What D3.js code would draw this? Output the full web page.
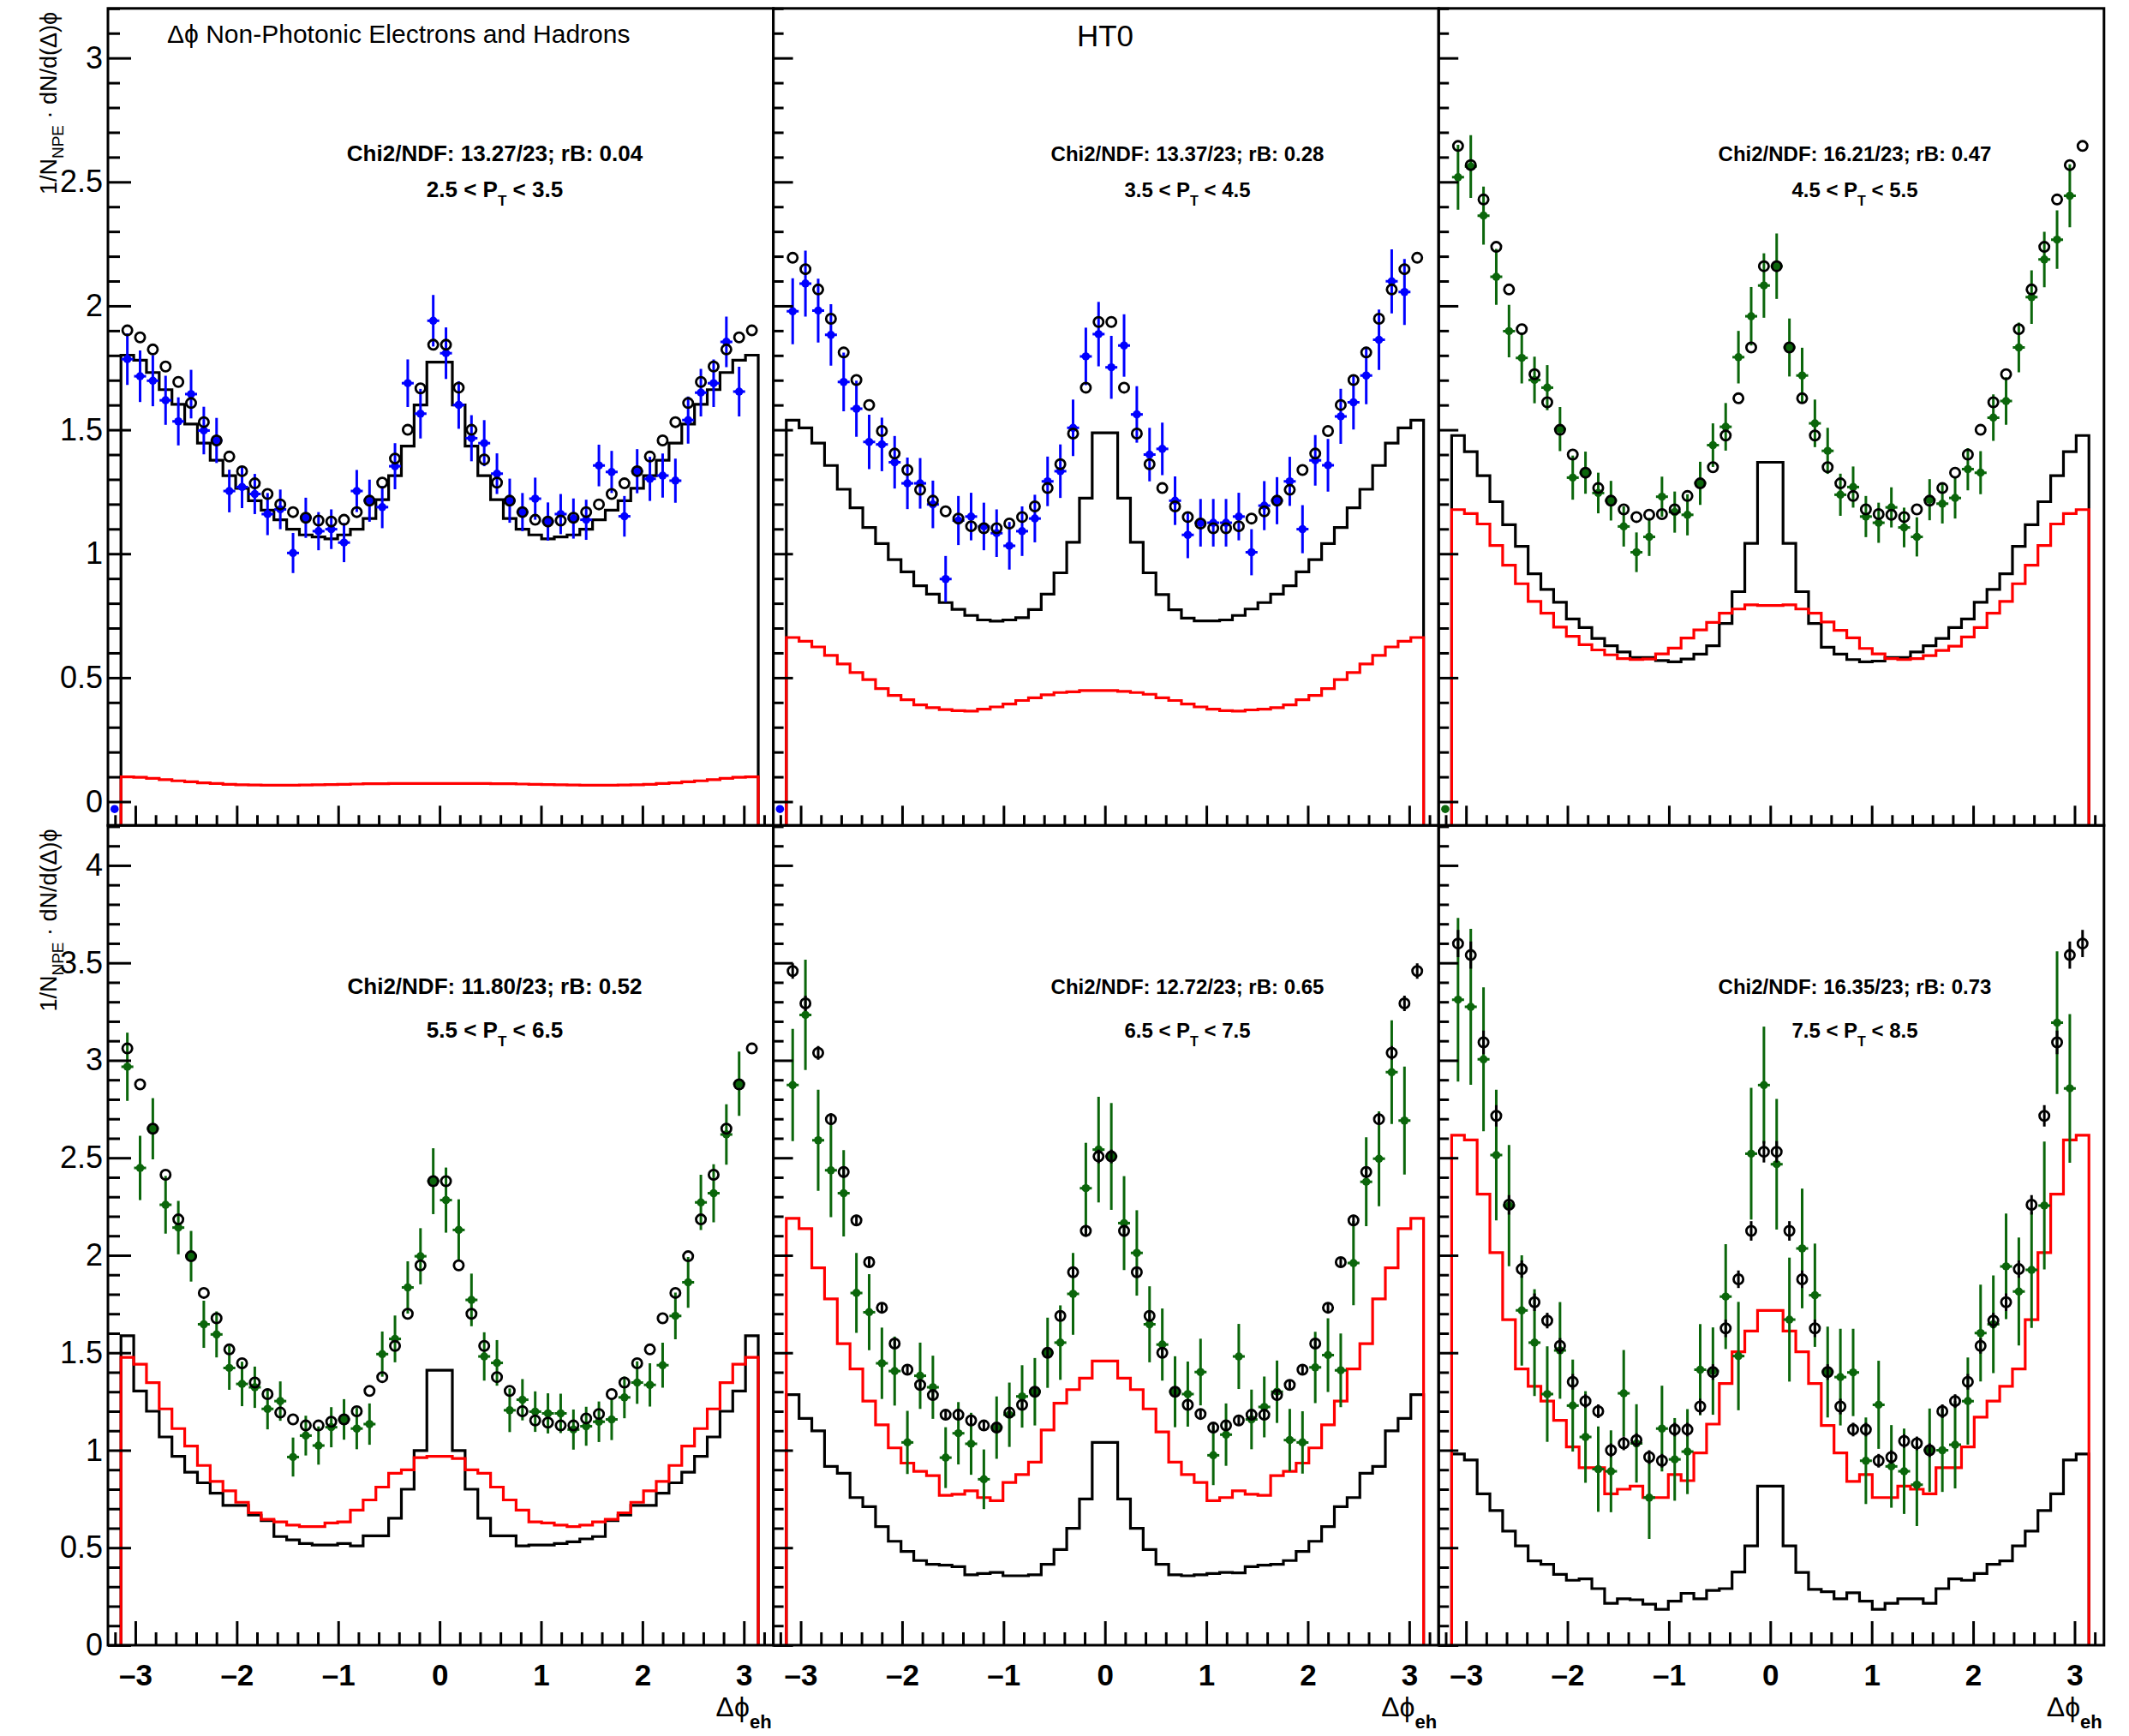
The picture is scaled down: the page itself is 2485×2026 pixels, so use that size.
<!DOCTYPE html>
<html>
<head>
<meta charset="utf-8">
<script src="https://cdn.jsdelivr.net/npm/d3@7"></script>
<style>
  body { margin: 0; background: #ffffff; }
  svg text { font-family: "Liberation Sans", Arial, Helvetica, sans-serif; }
</style>
</head>
<body>
<svg id="chart" width="2485" height="2026"></svg>
<script>
// ---------------------------------------------------------------------------
// Delta-phi correlations of non-photonic electrons with hadrons (HT0 trigger),
// six pT bins. Per panel: combined fit (open circles), charm template (black
// histogram), bottom template (red histogram) and measured points.
// ---------------------------------------------------------------------------

const phiTicks = [-3, -2, -1, 0, 1, 2, 3];
const yTicksTop = [0, 0.5, 1, 1.5, 2, 2.5, 3];
const yTicksBottom = [0, 0.5, 1, 1.5, 2, 2.5, 3, 3.5, 4];

const chi2Labels = [
  "Chi2/NDF: 13.27/23; rB: 0.04",
  "Chi2/NDF: 13.37/23; rB: 0.28",
  "Chi2/NDF: 16.21/23; rB: 0.47",
  "Chi2/NDF: 11.80/23; rB: 0.52",
  "Chi2/NDF: 12.72/23; rB: 0.65",
  "Chi2/NDF: 16.35/23; rB: 0.73"
];
const ptLow = ["2.5", "3.5", "4.5", "5.5", "6.5", "7.5"];
const ptHigh = ["3.5", "4.5", "5.5", "6.5", "7.5", "8.5"];

// ---- 2.5 < pT < 3.5 -------------------------------------------------------
const fit1 = [1.901, 1.873, 1.824, 1.755, 1.693, 1.608, 1.531, 1.457, 1.392, 1.333,
  1.284, 1.241, 1.199, 1.168, 1.145, 1.134, 1.130, 1.137, 1.168, 1.214,
  1.287, 1.384, 1.500, 1.667, 1.843, 1.843, 1.670, 1.500, 1.380, 1.287,
  1.214, 1.168, 1.137, 1.130, 1.134, 1.145, 1.168, 1.199, 1.241, 1.284,
  1.333, 1.392, 1.457, 1.531, 1.608, 1.693, 1.755, 1.824, 1.873, 1.901];
const charm1 = [1.801, 1.781, 1.731, 1.662, 1.603, 1.523, 1.446, 1.377, 1.315, 1.264,
  1.214, 1.176, 1.137, 1.099, 1.076, 1.068, 1.060, 1.076, 1.099, 1.142,
  1.218, 1.315, 1.434, 1.600, 1.773, 1.773, 1.600, 1.434, 1.315, 1.218,
  1.142, 1.099, 1.076, 1.060, 1.068, 1.076, 1.099, 1.137, 1.176, 1.214,
  1.264, 1.315, 1.377, 1.446, 1.523, 1.603, 1.662, 1.731, 1.781, 1.801];
const bottom1 = [0.100, 0.098, 0.094, 0.089, 0.084, 0.080, 0.076, 0.073, 0.070, 0.068,
  0.067, 0.066, 0.066, 0.066, 0.067, 0.068, 0.069, 0.070, 0.071, 0.072,
  0.072, 0.073, 0.073, 0.073, 0.073, 0.073, 0.073, 0.073, 0.073, 0.072,
  0.072, 0.071, 0.070, 0.069, 0.068, 0.067, 0.066, 0.066, 0.066, 0.067,
  0.068, 0.070, 0.073, 0.076, 0.080, 0.084, 0.089, 0.094, 0.098, 0.100];
const data1 = [-0.03, 1.785, 1.716, 1.698, 1.619, 1.534, 1.644, 1.497, 1.457, 1.253,
  1.269, 1.241, 1.160, 1.179, 1.003, 1.145, 1.091, 1.099, 1.045, 1.253,
  1.214, 1.188, 1.353, 1.688, 1.565, 1.940, 1.809, 1.600, 1.466, 1.446,
  1.323, 1.214, 1.168, 1.222, 1.130, 1.160, 1.142, 1.137, 1.356, 1.330,
  1.151, 1.333, 1.302, 1.315, 1.295, 1.539, 1.650, 1.688, 1.855, 1.654];
const dataErr1 = [0, 0.104, 0.104, 0.103, 0.099, 0.097, 0.098, 0.096, 0.091, 0.086,
  0.085, 0.081, 0.085, 0.080, 0.081, 0.081, 0.077, 0.080, 0.079, 0.085,
  0.085, 0.085, 0.093, 0.096, 0.100, 0.104, 0.104, 0.096, 0.093, 0.093,
  0.082, 0.089, 0.077, 0.085, 0.077, 0.081, 0.081, 0.081, 0.084, 0.085,
  0.082, 0.089, 0.089, 0.089, 0.089, 0.095, 0.096, 0.096, 0.102, 0.100];

// ---- 3.5 < pT < 4.5 -------------------------------------------------------
const fit2 = [2.194, 2.148, 2.066, 1.948, 1.812, 1.701, 1.600, 1.495, 1.404, 1.338,
  1.258, 1.214, 1.171, 1.142, 1.111, 1.103, 1.103, 1.122, 1.148, 1.191,
  1.265, 1.361, 1.485, 1.670, 1.935, 1.935, 1.670, 1.485, 1.361, 1.265,
  1.191, 1.148, 1.122, 1.103, 1.103, 1.111, 1.142, 1.171, 1.214, 1.258,
  1.338, 1.404, 1.495, 1.600, 1.701, 1.812, 1.948, 2.066, 2.148, 2.194];
const charm2 = [1.539, 1.508, 1.446, 1.356, 1.260, 1.185, 1.106, 1.041, 0.976, 0.927,
  0.871, 0.837, 0.803, 0.776, 0.751, 0.733, 0.728, 0.733, 0.742, 0.775,
  0.837, 0.923, 1.046, 1.224, 1.488, 1.488, 1.224, 1.046, 0.923, 0.835,
  0.774, 0.740, 0.729, 0.729, 0.733, 0.751, 0.777, 0.803, 0.837, 0.871,
  0.927, 0.976, 1.041, 1.106, 1.185, 1.260, 1.356, 1.446, 1.508, 1.539];
const bottom2 = [0.662, 0.647, 0.624, 0.590, 0.555, 0.521, 0.492, 0.456, 0.428, 0.411,
  0.390, 0.379, 0.371, 0.367, 0.365, 0.373, 0.382, 0.394, 0.408, 0.419,
  0.431, 0.440, 0.443, 0.448, 0.448, 0.448, 0.445, 0.440, 0.433, 0.419,
  0.408, 0.394, 0.382, 0.373, 0.367, 0.365, 0.370, 0.373, 0.379, 0.390,
  0.411, 0.428, 0.456, 0.492, 0.521, 0.555, 0.590, 0.624, 0.647, 0.662];
const data2 = [-0.03, 1.978, 2.090, 1.981, 1.883, 1.693, 1.585, 1.451, 1.441, 1.369,
  1.284, 1.284, 1.199, 0.898, 1.134, 1.150, 1.110, 1.083, 1.032, 1.091,
  1.142, 1.292, 1.333, 1.508, 1.796, 1.886, 1.752, 1.840, 1.562, 1.400,
  1.423, 1.214, 1.076, 1.125, 1.125, 1.125, 1.150, 1.006, 1.194, 1.214,
  1.292, 1.099, 1.377, 1.357, 1.554, 1.611, 1.719, 1.863, 2.099, 2.056];
const dataErr2 = [0, 0.133, 0.133, 0.129, 0.124, 0.118, 0.113, 0.110, 0.108, 0.106,
  0.104, 0.102, 0.096, 0.093, 0.099, 0.096, 0.096, 0.096, 0.096, 0.100,
  0.096, 0.100, 0.108, 0.114, 0.116, 0.130, 0.127, 0.126, 0.114, 0.108,
  0.106, 0.098, 0.094, 0.096, 0.096, 0.096, 0.096, 0.093, 0.099, 0.095,
  0.099, 0.097, 0.102, 0.106, 0.111, 0.110, 0.116, 0.122, 0.129, 0.133];

// ---- 4.5 < pT < 5.5 -------------------------------------------------------
const fit3 = [2.645, 2.568, 2.429, 2.238, 2.066, 1.906, 1.724, 1.611, 1.500, 1.400,
  1.327, 1.265, 1.214, 1.179, 1.148, 1.157, 1.160, 1.179, 1.233, 1.284,
  1.349, 1.477, 1.627, 1.832, 2.160, 2.160, 1.832, 1.627, 1.477, 1.349,
  1.284, 1.233, 1.179, 1.160, 1.157, 1.148, 1.179, 1.214, 1.265, 1.327,
  1.400, 1.500, 1.611, 1.724, 1.906, 2.066, 2.238, 2.429, 2.568, 2.645];
const charm3 = [1.477, 1.412, 1.315, 1.210, 1.117, 1.030, 0.919, 0.856, 0.804, 0.737,
  0.702, 0.658, 0.629, 0.604, 0.581, 0.581, 0.569, 0.564, 0.575, 0.595,
  0.629, 0.719, 0.847, 1.042, 1.369, 1.369, 1.042, 0.847, 0.719, 0.623,
  0.595, 0.573, 0.564, 0.567, 0.581, 0.581, 0.604, 0.629, 0.658, 0.702,
  0.737, 0.804, 0.856, 0.919, 1.030, 1.117, 1.210, 1.315, 1.412, 1.477];
const bottom3 = [1.178, 1.162, 1.120, 1.033, 0.954, 0.879, 0.808, 0.760, 0.704, 0.667,
  0.633, 0.612, 0.592, 0.577, 0.573, 0.575, 0.596, 0.619, 0.660, 0.693,
  0.723, 0.760, 0.777, 0.794, 0.791, 0.791, 0.794, 0.777, 0.760, 0.725,
  0.691, 0.661, 0.618, 0.596, 0.577, 0.573, 0.577, 0.589, 0.610, 0.627,
  0.664, 0.702, 0.760, 0.808, 0.879, 0.954, 1.033, 1.120, 1.162, 1.178];
const data3 = [-0.03, 2.519, 2.562, 2.364, 2.117, 1.898, 1.790, 1.701, 1.670, 1.503,
  1.307, 1.327, 1.245, 1.214, 1.110, 1.006, 1.068, 1.230, 1.168, 1.157,
  1.284, 1.438, 1.512, 1.793, 1.958, 2.082, 2.160, 1.832, 1.719, 1.526,
  1.415, 1.238, 1.269, 1.150, 1.125, 1.187, 1.106, 1.068, 1.218, 1.202,
  1.225, 1.341, 1.327, 1.549, 1.616, 1.832, 2.035, 2.187, 2.267, 2.444];
const dataErr3 = [0, 0.131, 0.127, 0.117, 0.113, 0.106, 0.103, 0.094, 0.091, 0.089,
  0.089, 0.085, 0.082, 0.080, 0.081, 0.080, 0.077, 0.081, 0.083, 0.083,
  0.087, 0.088, 0.096, 0.106, 0.118, 0.130, 0.132, 0.117, 0.112, 0.096,
  0.093, 0.085, 0.083, 0.083, 0.081, 0.081, 0.080, 0.079, 0.083, 0.080,
  0.083, 0.085, 0.087, 0.094, 0.096, 0.100, 0.108, 0.112, 0.118, 0.127];

// ---- 5.5 < pT < 6.5 -------------------------------------------------------
const fit4 = [3.061, 2.877, 2.649, 2.413, 2.184, 1.995, 1.807, 1.677, 1.517, 1.446,
  1.347, 1.288, 1.193, 1.158, 1.127, 1.127, 1.146, 1.158, 1.200, 1.304,
  1.375, 1.535, 1.700, 1.948, 2.380, 2.380, 1.948, 1.700, 1.535, 1.375,
  1.304, 1.200, 1.153, 1.142, 1.127, 1.127, 1.163, 1.186, 1.288, 1.347,
  1.446, 1.517, 1.677, 1.807, 1.995, 2.184, 2.413, 2.649, 2.877, 3.061];
const charm4 = [1.587, 1.304, 1.200, 1.068, 0.969, 0.887, 0.833, 0.780, 0.717, 0.717,
  0.667, 0.639, 0.557, 0.540, 0.521, 0.514, 0.514, 0.521, 0.509, 0.561,
  0.561, 0.651, 0.800, 0.998, 1.410, 1.410, 0.998, 0.800, 0.651, 0.561,
  0.561, 0.509, 0.514, 0.514, 0.521, 0.530, 0.545, 0.557, 0.639, 0.667,
  0.717, 0.717, 0.780, 0.833, 0.887, 0.969, 1.068, 1.200, 1.304, 1.587];
const bottom4 = [1.476, 1.441, 1.347, 1.212, 1.111, 1.021, 0.922, 0.840, 0.792, 0.733,
  0.679, 0.646, 0.632, 0.616, 0.608, 0.608, 0.627, 0.632, 0.693, 0.745,
  0.811, 0.882, 0.899, 0.962, 0.969, 0.969, 0.958, 0.899, 0.882, 0.811,
  0.745, 0.693, 0.632, 0.627, 0.616, 0.608, 0.616, 0.632, 0.646, 0.679,
  0.733, 0.792, 0.840, 0.922, 1.021, 1.111, 1.212, 1.347, 1.441, 1.476];
const data4 = [null, 2.967, 2.448, 2.649, 2.259, 2.142, 1.995, 1.646, 1.594, 1.422,
  1.340, 1.323, 1.212, 1.252, 0.965, 1.075, 1.024, 1.118, 1.158, 1.111,
  1.134, 1.493, 1.571, 1.835, 1.995, 2.380, 2.283, 2.130, 1.771, 1.481,
  1.448, 1.205, 1.259, 1.198, 1.189, 1.189, 1.106, 1.123, 1.146, 1.158,
  1.271, 1.347, 1.335, 1.436, 1.689, 1.861, 2.271, 2.318, 2.620, 2.880];
const dataErr4 = [0, 0.175, 0.165, 0.157, 0.148, 0.137, 0.130, 0.121, 0.118, 0.112,
  0.114, 0.106, 0.105, 0.101, 0.100, 0.102, 0.098, 0.103, 0.104, 0.106,
  0.106, 0.116, 0.120, 0.134, 0.144, 0.169, 0.167, 0.157, 0.135, 0.124,
  0.117, 0.112, 0.106, 0.104, 0.103, 0.101, 0.103, 0.100, 0.104, 0.106,
  0.107, 0.109, 0.111, 0.115, 0.120, 0.130, 0.142, 0.149, 0.155, 0.165];

// ---- 6.5 < pT < 7.5 -------------------------------------------------------
const fit5 = [3.458, 3.292, 3.038, 2.698, 2.427, 2.179, 1.965, 1.731, 1.547, 1.413,
  1.335, 1.283, 1.182, 1.182, 1.153, 1.127, 1.116, 1.193, 1.233, 1.300,
  1.500, 1.689, 1.913, 2.125, 2.507, 2.507, 2.125, 1.913, 1.689, 1.500,
  1.300, 1.233, 1.186, 1.116, 1.127, 1.153, 1.182, 1.182, 1.283, 1.335,
  1.413, 1.547, 1.731, 1.965, 2.179, 2.427, 2.698, 3.038, 3.292, 3.458];
const fitErr5 = [0.040, 0.040, 0.035, 0.030, 0.030, 0.028, 0.025, 0.022, 0.020, 0.020,
  0.020, 0.020, 0.020, 0.020, 0.020, 0.020, 0.020, 0.020, 0.020, 0.020,
  0.022, 0.025, 0.028, 0.030, 0.035, 0.035, 0.030, 0.028, 0.025, 0.022,
  0.020, 0.020, 0.020, 0.020, 0.020, 0.020, 0.020, 0.020, 0.020, 0.020,
  0.020, 0.020, 0.022, 0.025, 0.028, 0.030, 0.030, 0.035, 0.040, 0.040];
const charm5 = [1.285, 1.163, 1.099, 0.917, 0.882, 0.757, 0.710, 0.608, 0.533, 0.481,
  0.434, 0.415, 0.410, 0.403, 0.361, 0.368, 0.373, 0.356, 0.356, 0.361,
  0.415, 0.491, 0.599, 0.750, 1.040, 1.040, 0.750, 0.599, 0.491, 0.415,
  0.361, 0.356, 0.361, 0.368, 0.373, 0.371, 0.403, 0.410, 0.415, 0.434,
  0.481, 0.533, 0.608, 0.710, 0.757, 0.882, 0.917, 1.099, 1.163, 1.285];
const bottom5 = [2.189, 2.137, 1.936, 1.776, 1.547, 1.417, 1.252, 1.130, 1.012, 0.934,
  0.892, 0.870, 0.769, 0.774, 0.792, 0.757, 0.741, 0.835, 0.875, 0.939,
  1.104, 1.241, 1.311, 1.370, 1.458, 1.458, 1.370, 1.311, 1.212, 1.094,
  0.939, 0.875, 0.835, 0.741, 0.757, 0.792, 0.774, 0.769, 0.870, 0.892,
  0.934, 1.012, 1.130, 1.252, 1.417, 1.547, 1.776, 1.936, 2.137, 2.189];
const data5 = [null, 2.873, 3.233, 2.590, 2.436, 2.318, 1.807, 1.708, 1.446, 1.406,
  1.040, 1.382, 1.323, 0.962, 1.087, 1.033, 0.851, 1.116, 1.182, 1.276,
  1.300, 1.500, 1.552, 1.802, 2.344, 2.542, 2.507, 2.165, 2.012, 1.646,
  1.542, 1.300, 1.288, 1.401, 0.974, 1.080, 1.481, 1.158, 1.222, 1.300,
  1.052, 1.040, 1.425, 1.488, 1.410, 1.960, 2.377, 2.495, 2.939, 2.691];
const dataErr5 = [0, 0.288, 0.283, 0.259, 0.241, 0.221, 0.205, 0.195, 0.183, 0.177,
  0.162, 0.170, 0.162, 0.156, 0.160, 0.159, 0.153, 0.160, 0.165, 0.160,
  0.173, 0.180, 0.191, 0.210, 0.233, 0.271, 0.274, 0.241, 0.219, 0.195,
  0.185, 0.182, 0.167, 0.171, 0.153, 0.160, 0.167, 0.153, 0.156, 0.160,
  0.160, 0.160, 0.183, 0.189, 0.189, 0.216, 0.228, 0.243, 0.266, 0.277];

// ---- 7.5 < pT < 8.5 -------------------------------------------------------
const fit6 = [3.599, 3.540, 3.092, 2.715, 2.259, 1.929, 1.759, 1.665, 1.535, 1.351,
  1.252, 1.200, 1.000, 1.035, 1.052, 0.965, 0.946, 1.106, 1.106, 1.224,
  1.401, 1.625, 1.877, 2.125, 2.531, 2.531, 2.125, 1.877, 1.625, 1.401,
  1.224, 1.106, 1.106, 0.946, 0.965, 1.047, 1.035, 1.000, 1.200, 1.252,
  1.351, 1.535, 1.665, 1.759, 1.929, 2.259, 2.715, 3.092, 3.540, 3.599];
const fitErr6 = [0.070, 0.070, 0.060, 0.055, 0.050, 0.045, 0.045, 0.040, 0.040, 0.040,
  0.035, 0.035, 0.035, 0.035, 0.035, 0.035, 0.035, 0.035, 0.035, 0.040,
  0.040, 0.045, 0.045, 0.050, 0.055, 0.055, 0.050, 0.045, 0.045, 0.040,
  0.040, 0.035, 0.035, 0.035, 0.035, 0.035, 0.035, 0.035, 0.035, 0.035,
  0.040, 0.040, 0.040, 0.045, 0.045, 0.050, 0.055, 0.060, 0.070, 0.070];
const charm6 = [0.981, 0.950, 0.776, 0.691, 0.585, 0.509, 0.432, 0.415, 0.363, 0.333,
  0.340, 0.290, 0.215, 0.238, 0.233, 0.210, 0.184, 0.226, 0.266, 0.238,
  0.281, 0.290, 0.375, 0.509, 0.816, 0.816, 0.509, 0.373, 0.286, 0.274,
  0.238, 0.269, 0.226, 0.184, 0.215, 0.238, 0.238, 0.215, 0.290, 0.340,
  0.333, 0.368, 0.415, 0.432, 0.509, 0.585, 0.691, 0.776, 0.950, 0.981];
const bottom6 = [2.616, 2.592, 2.314, 2.014, 1.670, 1.417, 1.328, 1.252, 1.153, 1.017,
  0.910, 0.910, 0.776, 0.800, 0.816, 0.757, 0.757, 0.875, 0.844, 0.986,
  1.134, 1.342, 1.505, 1.611, 1.717, 1.717, 1.611, 1.505, 1.342, 1.127,
  0.986, 0.840, 0.875, 0.757, 0.757, 0.816, 0.800, 0.776, 0.910, 0.910,
  1.017, 1.170, 1.252, 1.328, 1.417, 1.670, 2.014, 2.314, 2.592, 2.616];
const data6 = [null, 3.311, 3.274, 3.005, 2.514, 2.255, 1.717, 1.552, 1.288, 1.512,
  1.229, 1.068, 0.903, 0.892, 1.292, 1.035, 0.757, 1.111, 0.953, 0.993,
  1.413, 1.406, 1.788, 1.483, 2.521, 2.873, 2.467, 1.670, 2.035, 1.795,
  1.401, 1.375, 1.399, 0.946, 1.233, 0.917, 0.892, 0.823, 1.000, 1.000,
  1.028, 1.252, 1.601, 1.646, 1.943, 1.814, 1.925, 2.255, 3.193, 2.856];
const dataErr6 = [0, 0.420, 0.400, 0.369, 0.335, 0.311, 0.283, 0.274, 0.245, 0.248,
  0.236, 0.235, 0.219, 0.210, 0.222, 0.201, 0.212, 0.220, 0.212, 0.218,
  0.234, 0.224, 0.269, 0.278, 0.338, 0.300, 0.335, 0.318, 0.307, 0.265,
  0.233, 0.248, 0.224, 0.222, 0.226, 0.212, 0.219, 0.212, 0.214, 0.214,
  0.224, 0.224, 0.248, 0.251, 0.271, 0.277, 0.298, 0.328, 0.366, 0.381];

// ---------------------------------------------------------------------------
const BLUE = "#0000ff";
const GREEN = "#0b660b";
const RED = "#ff0000";

const panels = [
  { fit: fit1, fitErr: null,   charm: charm1, bottom: bottom1, data: data1, err: dataErr1, color: BLUE },
  { fit: fit2, fitErr: null,   charm: charm2, bottom: bottom2, data: data2, err: dataErr2, color: BLUE },
  { fit: fit3, fitErr: null,   charm: charm3, bottom: bottom3, data: data3, err: dataErr3, color: GREEN },
  { fit: fit4, fitErr: null,   charm: charm4, bottom: bottom4, data: data4, err: dataErr4, color: GREEN },
  { fit: fit5, fitErr: fitErr5, charm: charm5, bottom: bottom5, data: data5, err: dataErr5, color: GREEN },
  { fit: fit6, fitErr: fitErr6, charm: charm6, bottom: bottom6, data: data6, err: dataErr6, color: GREEN }
];

// Binning: 50 bins over [-pi, pi]; measured points sit on a grid shifted by one bin.
const nBins = 50;
const binW = 2 * Math.PI / nBins;
const edges = d3.range(nBins + 1).map(i => -Math.PI + i * binW);
const fitCenters = d3.range(nBins).map(i => -Math.PI + (i + 0.5) * binW);
const dataCenters = d3.range(nBins).map(j => -Math.PI + (j - 0.5) * binW);

// Geometry of the 3 x 2 grid of frames
const colLeft = [126, 902.6, 1679.2];
const frameW = 776.6;
const rowsGeom = [
  { top: 9.8, bottom: 963.3, domain: [-0.096, 3.2], ticks: yTicksTop, xMajor: 23, xMinor: 12 },
  { top: 963.3, bottom: 1920, domain: [0, 4.205], ticks: yTicksBottom, xMajor: 28, xMinor: 15 }
];
// pad text is scaled with the pad width: the first column pad is wider
const textCenter = [577.5, 1386, 2165];
const textSize = [26, 24, 24];
const subSize = [17, 16, 16];
const textBase = [[188, 230], [1160, 1211]];

const svg = d3.select("#chart");
svg.append("rect").attr("width", 2485).attr("height", 2026).attr("fill", "#ffffff");

const fmtY = d => String(d);
const fmtX = d => (d < 0 ? "\u2013" + Math.abs(d) : String(d));

panels.forEach((p, k) => {
  const col = k % 3, row = Math.floor(k / 3);
  const geom = rowsGeom[row];
  const x0 = colLeft[col];
  const x = d3.scaleLinear().domain([-3.27, 3.29]).range([x0, x0 + frameW]);
  const y = d3.scaleLinear().domain(geom.domain).range([geom.bottom, geom.top]);
  const yMin = geom.domain[0];

  const g = svg.append("g");
  const clipId = "clip" + k;
  g.append("clipPath").attr("id", clipId)
    .append("rect")
    .attr("x", x0).attr("y", geom.top)
    .attr("width", frameW).attr("height", geom.bottom - geom.top);
  const plot = g.append("g").attr("clip-path", `url(#${clipId})`);

  // step histograms with vertical edges dropping to the frame floor
  const stepLine = d3.line().x(d => x(d[0])).y(d => y(d[1])).curve(d3.curveStepAfter);
  const stepPoints = vals => {
    const pts = [[edges[0], yMin]];
    vals.forEach((v, i) => pts.push([edges[i], v]));
    pts.push([edges[nBins], vals[nBins - 1]]);
    pts.push([edges[nBins], yMin]);
    return pts;
  };
  plot.append("path").attr("d", stepLine(stepPoints(p.charm)))
    .attr("fill", "none").attr("stroke", "#000").attr("stroke-width", 3.2);
  plot.append("path").attr("d", stepLine(stepPoints(p.bottom)))
    .attr("fill", "none").attr("stroke", RED).attr("stroke-width", 3.2);

  // measured points with error bars
  const pts = p.data.map((v, j) => ({ x: dataCenters[j], v, e: p.err[j] }))
    .filter(d => d.v !== null);
  const dp = plot.append("g").attr("fill", p.color).attr("stroke", p.color);
  dp.selectAll("line.ev").data(pts.filter(d => d.e > 0)).join("line")
    .attr("class", "ev")
    .attr("x1", d => x(d.x)).attr("x2", d => x(d.x))
    .attr("y1", d => y(d.v - d.e)).attr("y2", d => y(d.v + d.e))
    .attr("stroke-width", 3);
  dp.selectAll("line.eh").data(pts.filter(d => d.e > 0)).join("line")
    .attr("class", "eh")
    .attr("x1", d => x(d.x) - 7).attr("x2", d => x(d.x) + 7)
    .attr("y1", d => y(d.v)).attr("y2", d => y(d.v))
    .attr("stroke-width", 3);
  dp.selectAll("circle").data(pts).join("circle")
    .attr("cx", d => x(d.x)).attr("cy", d => y(d.v)).attr("r", 4.8)
    .attr("stroke", "none");

  // combined fit: open circles (with small error bars where given)
  const fp = plot.append("g");
  if (p.fitErr) {
    fp.selectAll("line").data(p.fit.map((v, i) => ({ x: fitCenters[i], v, e: p.fitErr[i] })))
      .join("line")
      .attr("x1", d => x(d.x)).attr("x2", d => x(d.x))
      .attr("y1", d => y(d.v - d.e)).attr("y2", d => y(d.v + d.e))
      .attr("stroke", "#000").attr("stroke-width", 3);
  }
  fp.selectAll("circle").data(p.fit.map((v, i) => ({ x: fitCenters[i], v })))
    .join("circle")
    .attr("cx", d => x(d.x)).attr("cy", d => y(d.v)).attr("r", 5.6)
    .attr("fill", "none").attr("stroke", "#000").attr("stroke-width", 2.8);

  // frame
  g.append("rect").attr("x", x0).attr("y", geom.top)
    .attr("width", frameW).attr("height", geom.bottom - geom.top)
    .attr("fill", "none").attr("stroke", "#000").attr("stroke-width", 3);

  // y axis: major + minor ticks pointing inwards
  const yMajLen = col === 0 ? 27 : 23, yMinLen = col === 0 ? 14 : 12;
  const [lo, hi] = geom.domain;
  const yMinor = d3.range(Math.ceil(lo * 10 - 1e-9), Math.floor(hi * 10 + 1e-9) + 1)
    .map(t => t / 10).filter(t => Math.abs(t * 2 - Math.round(t * 2)) > 1e-6);
  const styleAxis = s => {
    s.select(".domain").remove();
    s.selectAll(".tick line").attr("stroke", "#000").attr("stroke-width", 3);
  };
  g.append("g").attr("transform", `translate(${x0},0)`)
    .call(d3.axisLeft(y).tickValues(yMinor).tickSize(-yMinLen).tickSizeOuter(0).tickFormat(""))
    .call(styleAxis);
  const yMaj = g.append("g").attr("transform", `translate(${x0},0)`)
    .call(d3.axisLeft(y).tickValues(geom.ticks).tickSize(-yMajLen).tickSizeOuter(0)
      .tickPadding(6).tickFormat(col === 0 ? fmtY : ""))
    .call(styleAxis);
  yMaj.selectAll("text")
    .attr("font-family", "'Liberation Sans', Arial, sans-serif")
    .attr("font-size", 36).attr("fill", "#000");

  // x axis along the frame floor
  const xMinor = d3.range(-16, 17).map(t => t / 5)
    .filter(t => Math.abs(t - Math.round(t)) > 1e-6 && t > -3.27 && t < 3.29);
  g.append("g").attr("transform", `translate(0,${geom.bottom})`)
    .call(d3.axisBottom(x).tickValues(xMinor).tickSize(-geom.xMinor).tickSizeOuter(0).tickFormat(""))
    .call(styleAxis);
  const xMaj = g.append("g").attr("transform", `translate(0,${geom.bottom})`)
    .call(d3.axisBottom(x).tickValues(phiTicks).tickSize(-geom.xMajor).tickSizeOuter(0)
      .tickPadding(22).tickFormat(row === 1 ? fmtX : ""))
    .call(styleAxis);
  xMaj.selectAll("text")
    .attr("font-family", "'Liberation Sans', Arial, sans-serif")
    .attr("font-weight", "bold").attr("font-size", 35).attr("fill", "#000");

  // fit summary and pT range
  const tc = textCenter[col];
  const [b1, b2] = textBase[row];
  g.append("text").attr("x", tc).attr("y", b1)
    .attr("text-anchor", "middle").attr("font-weight", "bold").attr("font-size", textSize[col])
    .text(chi2Labels[k]);
  const pt = g.append("text").attr("x", tc).attr("y", b2)
    .attr("text-anchor", "middle").attr("font-weight", "bold").attr("font-size", textSize[col]);
  pt.append("tspan").text(ptLow[k] + " < P");
  pt.append("tspan").attr("font-size", subSize[col]).attr("dy", 10).text("T");
  pt.append("tspan").attr("dy", -10).text(" < " + ptHigh[k]);

  // x-axis title on every lower frame
  if (row === 1) {
    const xt = g.append("text").attr("x", x0 + frameW - 2).attr("y", 2003)
      .attr("text-anchor", "end").attr("font-size", 32);
    xt.append("tspan").text("\u0394\u03d5");
    xt.append("tspan").attr("font-size", 22).attr("font-weight", "bold").attr("dy", 14).text("eh");
  }
});

// y-axis titles
rowsGeom.forEach(geom => {
  const t = svg.append("text")
    .attr("transform", `translate(66,${geom.top + 4}) rotate(-90)`)
    .attr("text-anchor", "end").attr("font-size", 27);
  t.append("tspan").text("1/N");
  t.append("tspan").attr("font-size", 19).attr("dy", 8).text("NPE");
  t.append("tspan").attr("dy", -8).text(" \u00b7 dN/d(\u0394)\u03d5");
});

// headline texts
svg.append("text").attr("x", 195).attr("y", 50).attr("font-size", 30)
  .text("\u0394\u03d5 Non-Photonic Electrons and Hadrons");
svg.append("text").attr("x", 1290).attr("y", 54).attr("text-anchor", "middle")
  .attr("font-size", 35).text("HT0");
</script>
</body>
</html>
